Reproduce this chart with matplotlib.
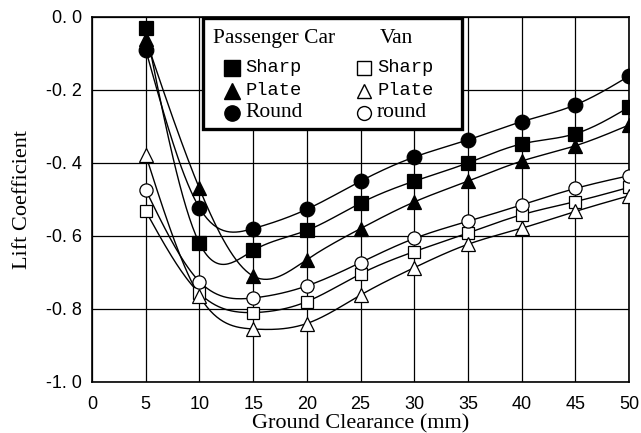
import matplotlib
matplotlib.use("Agg")
import matplotlib.pyplot as plt
import numpy as np
from matplotlib.patches import Rectangle

# Ground clearance (mm) and measured lift coefficients
clearance = [5, 10, 15, 20, 25, 30, 35, 40, 45, 50]

car_sharp = [-0.03, -0.62, -0.64, -0.585, -0.51, -0.45, -0.40, -0.348, -0.32, -0.247]
car_plate = [-0.06, -0.47, -0.71, -0.665, -0.58, -0.507, -0.45, -0.395, -0.353, -0.296]
car_round = [-0.09, -0.523, -0.58, -0.527, -0.45, -0.384, -0.337, -0.287, -0.241, -0.162]

van_sharp = [-0.532, -0.757, -0.81, -0.78, -0.704, -0.643, -0.592, -0.542, -0.506, -0.467]
van_plate = [-0.378, -0.765, -0.855, -0.84, -0.762, -0.687, -0.623, -0.579, -0.533, -0.49]
van_round = [-0.474, -0.725, -0.77, -0.737, -0.673, -0.607, -0.56, -0.515, -0.47, -0.435]

xticks = [0, 5, 10, 15, 20, 25, 30, 35, 40, 45, 50]
yticks = [0.0, -0.2, -0.4, -0.6, -0.8, -1.0]
ytick_labels = ["0. 0", "-0. 2", "-0. 4", "-0. 6", "-0. 8", "-1. 0"]


def spline(x, y, n=300):
    """Natural cubic spline through the points, for smooth curves."""
    x = np.asarray(x, float)
    y = np.asarray(y, float)
    k = len(x)
    h = np.diff(x)
    A = np.zeros((k, k))
    b = np.zeros(k)
    A[0, 0] = A[-1, -1] = 1.0
    for i in range(1, k - 1):
        A[i, i - 1] = h[i - 1]
        A[i, i] = 2 * (h[i - 1] + h[i])
        A[i, i + 1] = h[i]
        b[i] = 6 * ((y[i + 1] - y[i]) / h[i] - (y[i] - y[i - 1]) / h[i - 1])
    M = np.linalg.solve(A, b)
    xs = np.linspace(x[0], x[-1], n)
    j = np.clip(np.searchsorted(x, xs) - 1, 0, k - 2)
    t0 = x[j + 1] - xs
    t1 = xs - x[j]
    hj = h[j]
    ys = (M[j] * t0**3 + M[j + 1] * t1**3) / (6 * hj) \
        + (y[j] / hj - M[j] * hj / 6) * t0 \
        + (y[j + 1] / hj - M[j + 1] * hj / 6) * t1
    return xs, ys


fig = plt.figure(figsize=(6.41, 4.33), dpi=100)
ax = fig.add_axes([0.1435, 0.118, 0.838, 0.843])

series = [
    (car_sharp, "s", "black", 10),
    (car_plate, "^", "black", 10),
    (car_round, "o", "black", 10.5),
    (van_sharp, "s", "white", 9),
    (van_plate, "^", "white", 9.5),
    (van_round, "o", "white", 9.5),
]

for vals, mk, fc, ms in series:
    xs, ys = spline(clearance, vals)
    ax.plot(xs, ys, color="black", lw=1.0, zorder=3)
for vals, mk, fc, ms in series:
    ax.plot(clearance, vals, linestyle="none", marker=mk, markersize=ms,
            markerfacecolor=fc, markeredgecolor="black", markeredgewidth=0.9,
            zorder=4)

ax.set_xlim(0, 50)
ax.set_ylim(-1.0, 0.0)
ax.set_xticks(xticks)
ax.set_yticks(yticks)
ax.set_yticklabels(ytick_labels)
ax.grid(True, color="black", lw=0.9)
ax.set_axisbelow(True)
ax.tick_params(length=0, labelsize=13)
ax.tick_params(axis="x", pad=10)
ax.tick_params(axis="y", pad=7)
for lab in ax.get_xticklabels() + ax.get_yticklabels():
    lab.set_family("Liberation Sans")
for sp in ax.spines.values():
    sp.set_linewidth(1.2)

ax.set_xlabel("Ground Clearance (mm)", family="Liberation Serif", fontsize=16,
              labelpad=1)
ax.set_ylabel("Lift Coefficient", family="Liberation Serif", fontsize=16,
              labelpad=10)

# legend box drawn by hand: two columns with headers
tr = ax.transAxes
ax.add_patch(Rectangle((0.207, 0.693), 0.482, 0.304, transform=tr,
                       facecolor="white", edgecolor="black", lw=2.4,
                       zorder=10, clip_on=False))
ax.text(0.2253, 0.942, "Passenger Car", transform=tr, family="Liberation Serif",
        fontsize=15.5, va="center", ha="left", zorder=11)
ax.text(0.566, 0.942, "Van", transform=tr, family="Liberation Serif",
        fontsize=15.5, va="center", ha="center", zorder=11)

rows = [0.860, 0.797, 0.737]
labels_car = ["Sharp", "Plate", "Round"]
labels_van = ["Sharp", "Plate", "round"]
markers = ["s", "^", "o"]
for yy, mk, lc, lv in zip(rows, markers, labels_car, labels_van):
    ax.plot([0.2607], [yy], transform=tr, marker=mk, markersize=11,
            color="black", zorder=12, clip_on=False)
    ax.plot([0.5065], [yy], transform=tr, marker=mk, markersize=10,
            markerfacecolor="white", markeredgecolor="black",
            markeredgewidth=1.0, zorder=12, clip_on=False)
    if lc == "Round":
        ax.text(0.285, yy, lc, transform=tr, family="Liberation Serif",
                fontsize=15.5, va="center", ha="left", zorder=12)
    else:
        ax.text(0.285, yy, lc, transform=tr, family="Liberation Mono",
                fontsize=13.5, va="center", ha="left", zorder=12)
    if lv == "round":
        ax.text(0.5307, yy, lv, transform=tr, family="Liberation Serif",
                fontsize=15.5, va="center", ha="left", zorder=12)
    else:
        ax.text(0.5307, yy, lv, transform=tr, family="Liberation Mono",
                fontsize=13.5, va="center", ha="left", zorder=12)

fig.savefig("out.png", dpi=100)
